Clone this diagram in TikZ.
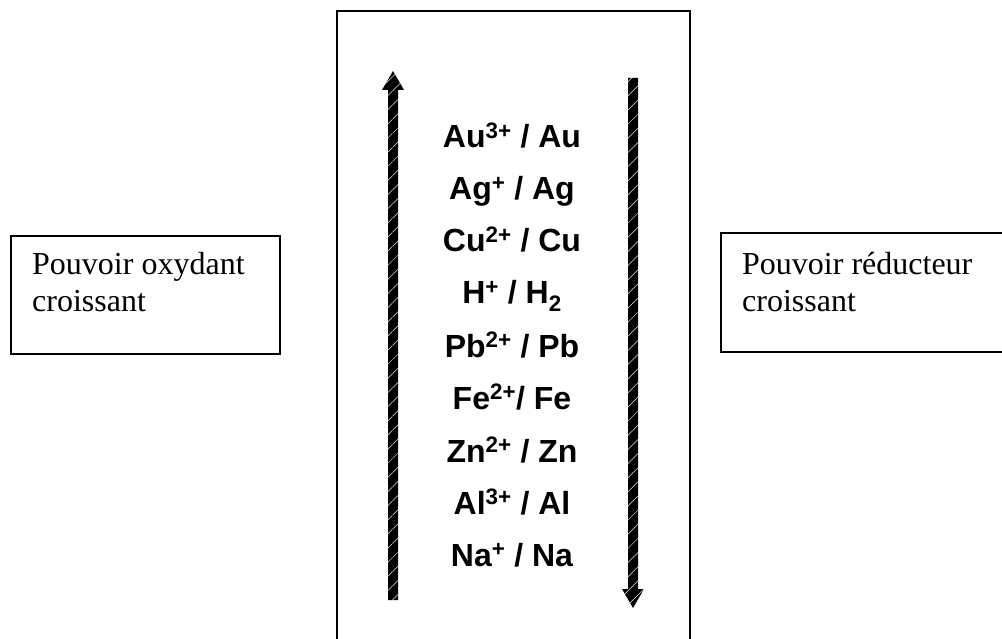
\documentclass[tikz,border=0pt]{standalone}
\usepackage{fontspec}
\setmainfont{Liberation Serif}
\newfontfamily\couplefont{Liberation Sans}
\usetikzlibrary{patterns.meta}
\tikzset{
  frame/.style={line width=1.6pt, black},
  label/.style={font=\fontsize{32}{37}\selectfont, inner sep=0pt, anchor=base west},
  couple/.style={font=\couplefont\bfseries\fontsize{32}{38}\selectfont, inner sep=0pt, anchor=base},
  bigarrow/.style={fill=black},
  hatch/.style={pattern={Lines[angle=45,distance=10pt,line width=0.5pt]}, pattern color=white!80!gray},
}
\begin{document}
\begin{tikzpicture}[x=1pt,y=-1pt]
\useasboundingbox (0,0) rectangle (1002,639);
% central frame (open at bottom, extends past page)
\coordinate (cbl) at (337,639);
\coordinate (ctl) at (337,11);
\coordinate (ctr) at (690,11);
\coordinate (cbr) at (690,639);
\draw[frame] (cbl) -- (ctl) -- (ctr) -- (cbr);
% left box
\node[draw, frame, minimum width=269pt, minimum height=118pt, anchor=north west, inner sep=0pt] (lbox) at (10,235) {};
\node[label] (l1) at (32,275) {Pouvoir oxydant};
\node[label] (l2) at (32,312) {croissant};
% right box (open at right, cut by page)
\coordinate (rtr) at (1004,233);
\coordinate (rtl) at (721,233);
\coordinate (rbl) at (721,352);
\coordinate (rbr) at (1004,352);
\draw[frame] (rtr) -- (rtl) -- (rbl) -- (rbr);
\node[label] (r1) at (742,275) {Pouvoir réducteur};
\node[label] (r2) at (742,312) {croissant};
% left arrow (up)
\path[bigarrow] (388,600) -- (388,90) -- (382,90) -- (393,71) -- (404,90) -- (398,90) -- (398,600) -- cycle;
\path[hatch] (388,600) -- (388,90) -- (382,90) -- (393,71) -- (404,90) -- (398,90) -- (398,600) -- cycle;
% right arrow (down)
\path[bigarrow] (628,78) -- (628,589) -- (622,589) -- (633,608) -- (644,589) -- (638,589) -- (638,78) -- cycle;
\path[hatch] (628,78) -- (628,589) -- (622,589) -- (633,608) -- (644,589) -- (638,589) -- (638,78) -- cycle;
% couples
\node[couple] (au) at (512,148) {Au\textsuperscript{3+} / Au};
\node[couple] (ag) at (512,200) {Ag\textsuperscript{+} / Ag};
\node[couple] (cu) at (512,252) {Cu\textsuperscript{2+} / Cu};
\node[couple] (h)  at (512,304) {H\textsuperscript{+} / H\textsubscript{2}};
\node[couple] (pb) at (512,357) {Pb\textsuperscript{2+} / Pb};
\node[couple] (fe) at (512,409) {Fe\textsuperscript{2+}/ Fe};
\node[couple] (zn) at (512,462) {Zn\textsuperscript{2+} / Zn};
\node[couple] (al) at (512,514) {Al\textsuperscript{3+} / Al};
\node[couple] (na) at (512,566) {Na\textsuperscript{+} / Na};
\end{tikzpicture}
\end{document}
